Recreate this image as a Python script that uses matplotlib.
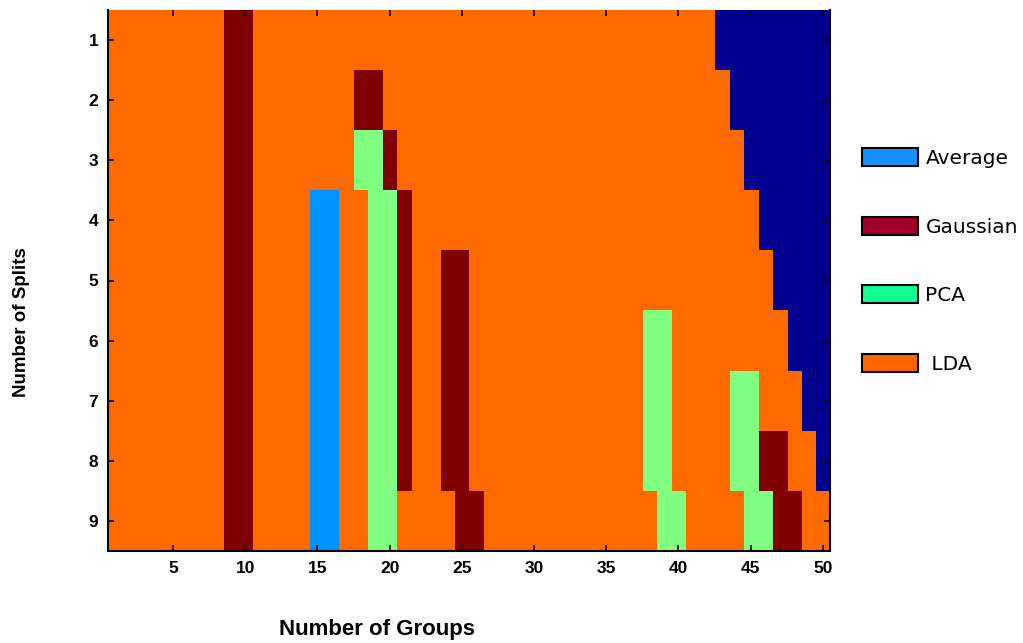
import matplotlib.pyplot as plt
import numpy as np
from matplotlib.colors import ListedColormap
from matplotlib.patches import Patch

# Mejor metodo por (numero de splits, numero de grupos), por tramos de columnas
# '-' = combinacion no valida, A = Average, G = Gaussian, P = PCA, L = LDA
grupos = np.arange(1, 51)
splits = np.arange(1, 10)
tramos = [
    [("L", 8), ("G", 2), ("L", 32), ("-", 8)],
    [("L", 8), ("G", 2), ("L", 7), ("G", 2), ("L", 24), ("-", 7)],
    [("L", 8), ("G", 2), ("L", 7), ("P", 2), ("G", 1), ("L", 24), ("-", 6)],
    [("L", 8), ("G", 2), ("L", 4), ("A", 2), ("L", 2), ("P", 2), ("G", 1), ("L", 24), ("-", 5)],
    [("L", 8), ("G", 2), ("L", 4), ("A", 2), ("L", 2), ("P", 2), ("G", 1), ("L", 2), ("G", 2),
     ("L", 21), ("-", 4)],
    [("L", 8), ("G", 2), ("L", 4), ("A", 2), ("L", 2), ("P", 2), ("G", 1), ("L", 2), ("G", 2),
     ("L", 12), ("P", 2), ("L", 8), ("-", 3)],
    [("L", 8), ("G", 2), ("L", 4), ("A", 2), ("L", 2), ("P", 2), ("G", 1), ("L", 2), ("G", 2),
     ("L", 12), ("P", 2), ("L", 4), ("P", 2), ("L", 3), ("-", 2)],
    [("L", 8), ("G", 2), ("L", 4), ("A", 2), ("L", 2), ("P", 2), ("G", 1), ("L", 2), ("G", 2),
     ("L", 12), ("P", 2), ("L", 4), ("P", 2), ("G", 2), ("L", 2), ("-", 1)],
    [("L", 8), ("G", 2), ("L", 4), ("A", 2), ("L", 2), ("P", 2), ("L", 4), ("G", 2),
     ("L", 12), ("P", 2), ("L", 4), ("P", 2), ("G", 2), ("L", 2)],
]
codigos = {"-": 0, "A": 1, "G": 2, "P": 3, "L": 4}
colores = ["#00008F", "#0094FF", "#800000", "#80FF80", "#FF6A00"]

metodos = ["Average", "Gaussian", "PCA", " LDA"]
colores_leyenda = ["#1590FF", "#A0002A", "#10FF90", "#FF6500"]

matriz = np.array([[codigos[m] for m, n in fila for _ in range(n)] for fila in tramos])

fig = plt.figure(figsize=(10.23, 6.43), dpi=100)
ax = fig.add_axes([108 / 1023, 1 - 551 / 643, 722 / 1023, 541 / 643])

ax.imshow(matriz, cmap=ListedColormap(colores), vmin=-0.5, vmax=4.5,
          aspect="auto", interpolation="nearest",
          extent=(grupos[0] - 0.5, grupos[-1] + 0.5, splits[-1] + 0.5, splits[0] - 0.5))

ax.set_xticks(np.arange(5, 51, 5))
ax.set_yticks(splits)
ax.tick_params(direction="in", top=True, right=True, length=4, width=1.2,
               labelsize=12.5, pad=7)
for lab in ax.get_xticklabels() + ax.get_yticklabels():
    lab.set_fontweight("bold")
    lab.set_family("Liberation Sans")
for s in ax.spines.values():
    s.set_linewidth(1.5)
ax.spines["top"].set_visible(False)

fig.text(377 / 1023, 1 - 630 / 643, "Number of Groups", ha="center", va="center",
         fontsize=16, fontweight="bold", family="Liberation Sans")
fig.text(22 / 1023, 1 - 322 / 643, "Number of Splits", ha="center", va="center",
         rotation=90, fontsize=13.5, fontweight="bold", family="Liberation Sans")

handles = [Patch(facecolor=c, edgecolor="black", linewidth=1.5) for c in colores_leyenda]
fig.legend(handles, metodos, loc="upper left", bbox_to_anchor=(862 / 1023, 1 - 148 / 643),
           frameon=False, fontsize=14.5, handlelength=2.8, handleheight=1.0,
           handletextpad=0.35, labelspacing=2.42, borderpad=0, borderaxespad=0)

plt.savefig("out.png", dpi=100)
